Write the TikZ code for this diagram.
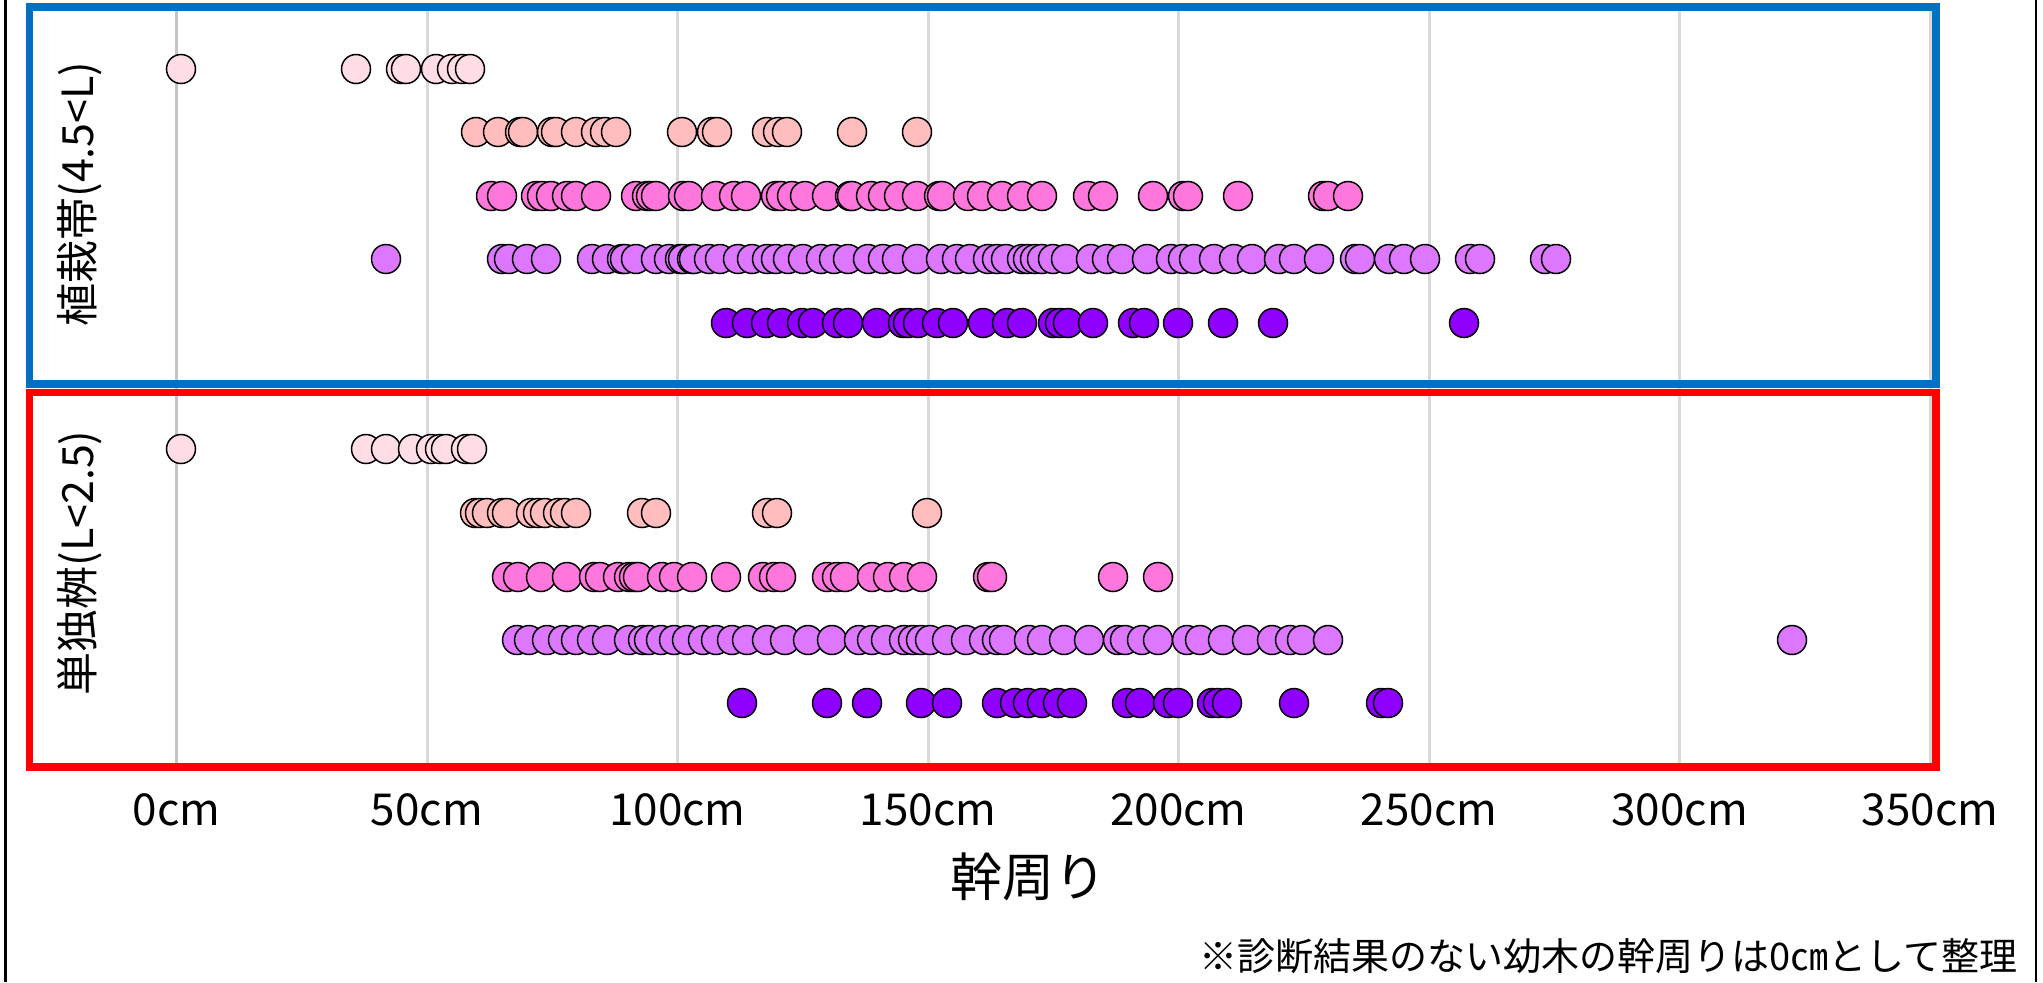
\documentclass[tikz,border=0pt]{standalone}
\usepackage{fontspec}
\setmainfont{Noto Sans CJK JP}
\definecolor{frameblue}{HTML}{0070C0}
\definecolor{framered}{HTML}{FF0000}
\definecolor{gridgray}{HTML}{D9D9D9}
\definecolor{axisgray}{HTML}{C4C4C4}
\definecolor{cA}{HTML}{FFDDE6}
\definecolor{cB}{HTML}{FFBDBD}
\definecolor{cC}{HTML}{FF77DD}
\definecolor{cD}{HTML}{DD77FF}
\definecolor{cE}{HTML}{9000FF}
\tikzset{
  dotA/.style={draw=black,fill=cA,line width=0.75pt},
  dotB/.style={draw=black,fill=cB,line width=0.75pt},
  dotC/.style={draw=black,fill=cC,line width=0.75pt},
  dotD/.style={draw=black,fill=cD,line width=0.75pt},
  dotE/.style={draw=black,fill=cE,line width=0.75pt},
  gridln/.style={draw=gridgray,line width=1.5pt},
  panel/.style={line width=3.8pt},
  ticklbl/.style={font=\fontsize{22pt}{26pt}\selectfont,inner sep=0pt},
  ylbl/.style={font=\fontsize{21.5pt}{25pt}\selectfont,inner sep=0pt,rotate=90},
}
\begin{document}
\begin{tikzpicture}[x=0.5pt,y=-0.5pt]
\useasboundingbox (0,0) rectangle (2043,982);
\fill[white] (0,0) rectangle (2043,982);
% outer frame sides
\draw[line width=1.3pt] (5.5,0) -- (5.5,982);
\draw[line width=1.3pt] (2036,0) -- (2036,982);
% grid lines
\foreach \k in {1,...,7} {
  \draw[gridln] ({176.5+250.5*\k},11) -- ({176.5+250.5*\k},763);
}
\draw[gridln,draw=axisgray] (176.5,11) -- (176.5,763);
% top panel dots
\foreach \x in {181,356,401,406,436,452,462,470} \draw[dotA] (\x,69) circle (14.5);
\foreach \x in {476,498,520,523,552,556,576,596,605,616,682,712,717,767,778,787,852,917} \draw[dotB] (\x,132) circle (14.5);
\foreach \x in {491,502,536,542,551,567,576,596,636,647,651,656,683,689,716,734,746,776,781,792,805,827,850,852,871,883,899,917,939,942,968,982,1002,1022,1042,1088,1103,1153,1183,1188,1238,1323,1328,1348} \draw[dotC] (\x,196) circle (14.5);
\foreach \x in {386,502,509,527,546,592,607,622,625,636,656,669,680,683,692,694,709,720,738,752,767,776,788,803,821,834,848,868,883,897,917,941,957,970,988,997,1006,1022,1028,1035,1042,1053,1066,1091,1107,1122,1147,1171,1183,1194,1214,1234,1252,1279,1294,1319,1355,1360,1389,1404,1425,1470,1480,1545,1556} \draw[dotD] (\x,259) circle (14.5);
\foreach \x in {726,747,766,782,802,813,837,848,877,903,908,918,937,953,983,1007,1022,1053,1060,1068,1093,1133,1144,1178,1223,1273,1464} \draw[dotE] (\x,323) circle (14.5);
% bottom panel dots
\foreach \x in {181,366,386,413,431,440,446,466,472} \draw[dotA] (\x,449) circle (14.5);
\foreach \x in {475,480,487,502,507,531,538,545,558,565,576,642,656,767,777,927} \draw[dotB] (\x,513) circle (14.5);
\foreach \x in {507,518,541,567,594,600,618,629,634,638,662,674,692,726,763,774,781,827,837,845,872,888,904,922,988,992,1113,1158} \draw[dotC] (\x,577) circle (14.5);
\foreach \x in {517,529,547,563,576,592,607,629,643,649,661,674,687,703,716,732,747,767,785,808,832,859,872,886,904,913,921,930,947,966,984,997,1004,1029,1042,1064,1089,1118,1125,1142,1158,1187,1200,1223,1247,1272,1290,1302,1328,1792} \draw[dotD] (\x,640) circle (14.5);
\foreach \x in {742,827,867,921,947,997,1015,1028,1042,1058,1072,1127,1140,1168,1178,1212,1218,1227,1294,1381,1388} \draw[dotE] (\x,703) circle (14.5);
% panels
\draw[draw=frameblue,panel] (29.5,7) rectangle (1936,384);
\draw[draw=framered,panel] (29.5,392.5) rectangle (1936,767);
% axis labels
\node[ylbl] (ytop) at (80,194) {植栽帯(4.5<L)};
\node[ylbl] (ybot) at (80,563) {単独桝(L<2.5)};
\foreach \k/\t in {0/0cm,1/50cm,2/100cm,3/150cm,4/200cm,5/250cm,6/300cm,7/350cm} {
  \node[ticklbl] (tick\k) at ({176.5+250.5*\k},810) {\t};
}
\node[font=\fontsize{26pt}{30pt}\selectfont,inner sep=0pt] (xtitle) at (1028,877) {幹周り};
\node[font=\fontsize{19pt}{22pt}\selectfont,inner sep=0pt,anchor=east] (note) at (2018,956) {※診断結果のない幼木の幹周りは0㎝として整理};
\end{tikzpicture}
\end{document}
